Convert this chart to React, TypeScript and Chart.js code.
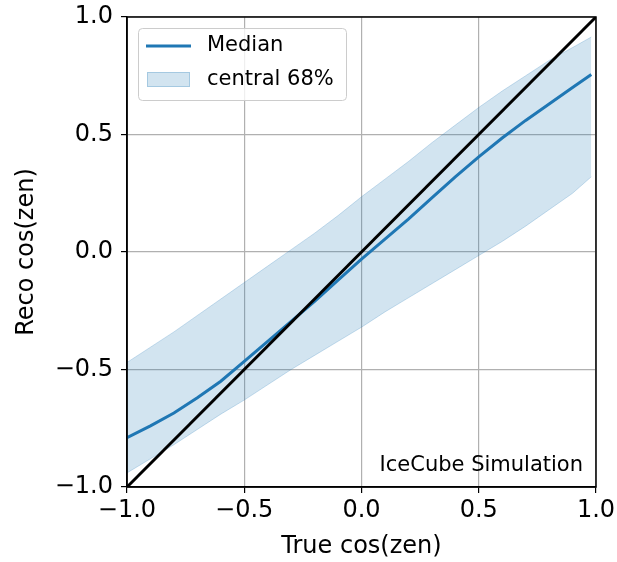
import React, { useEffect, useRef } from "react";
import { Chart, registerables } from "chart.js";

Chart.register(...registerables);

const trueCos = [-1.0, -0.9, -0.8, -0.7, -0.6, -0.5, -0.4, -0.3, -0.2, -0.1, 0.0, 0.1, 0.2, 0.3, 0.4, 0.5, 0.6, 0.7, 0.8, 0.9, 0.98];
const median = [-0.79, -0.74, -0.685, -0.62, -0.55, -0.465, -0.38, -0.295, -0.21, -0.12, -0.03, 0.055, 0.14, 0.23, 0.32, 0.405, 0.485, 0.56, 0.63, 0.70, 0.755];
const upper = [-0.47, -0.405, -0.34, -0.27, -0.20, -0.13, -0.06, 0.01, 0.08, 0.155, 0.235, 0.31, 0.385, 0.465, 0.54, 0.615, 0.685, 0.75, 0.815, 0.87, 0.915];
const lower = [-0.94, -0.88, -0.82, -0.755, -0.69, -0.63, -0.565, -0.5, -0.44, -0.38, -0.32, -0.255, -0.195, -0.135, -0.075, -0.015, 0.045, 0.11, 0.18, 0.25, 0.32];
const diagonal = [-1.0, 1.0];
const tickValues = [-1.0, -0.5, 0.0, 0.5, 1.0];

const BLUE = "#1f77b4";
const BAND = "rgba(31,119,180,0.2)";
const FONT = "'DejaVu Sans', sans-serif";

const fmt = (v: number) => v.toFixed(1).replace("-", "\u2212");

const framePlugin = {
  id: "frame",
  afterDatasetsDraw(chart: any) {
    const { ctx, chartArea: a } = chart;
    ctx.save();
    ctx.strokeStyle = "#000";
    ctx.lineWidth = 1.5;
    ctx.strokeRect(a.left, a.top, a.right - a.left, a.bottom - a.top);
    ctx.restore();
  },
  afterDraw(chart: any) {
    const { ctx, chartArea: a } = chart;
    ctx.save();
    // legend box
    const bx = a.left + 11, by = a.top + 11, bw = 208, bh = 72;
    ctx.fillStyle = "rgba(255,255,255,0.8)";
    ctx.strokeStyle = "#cccccc";
    ctx.lineWidth = 1;
    ctx.beginPath();
    (ctx as any).roundRect(bx + 0.5, by + 0.5, bw, bh, 4);
    ctx.fill();
    ctx.stroke();
    ctx.strokeStyle = BLUE;
    ctx.lineWidth = 3;
    ctx.beginPath();
    ctx.moveTo(bx + 8, by + 18);
    ctx.lineTo(bx + 53, by + 18);
    ctx.stroke();
    ctx.fillStyle = BAND;
    ctx.fillRect(bx + 9, by + 44, 43, 15);
    ctx.strokeStyle = "rgba(31,119,180,0.25)";
    ctx.lineWidth = 1;
    ctx.strokeRect(bx + 9.5, by + 44.5, 42, 14);
    ctx.fillStyle = "#000";
    ctx.font = `21px ${FONT}`;
    ctx.textBaseline = "middle";
    ctx.textAlign = "left";
    ctx.fillText("Median", bx + 69, by + 18);
    ctx.fillText("central 68%", bx + 69, by + 52);
    // annotation
    ctx.font = `21px ${FONT}`;
    ctx.textAlign = "right";
    ctx.textBaseline = "alphabetic";
    ctx.fillText("IceCube Simulation", a.right - 13, a.bottom - 16);
    ctx.restore();
  },
};

export default function App() {
  const ref = useRef<HTMLCanvasElement | null>(null);
  useEffect(() => {
    document.body.style.margin = "0";
    const ctx = ref.current!.getContext("2d")!;
    const chart = new Chart(ctx, {
      type: "scatter",
      data: {
        datasets: [
          {
            label: "diag",
            data: diagonal.map((v) => ({ x: v, y: v })),
            showLine: true,
            borderColor: "#000",
            borderWidth: 3,
            pointRadius: 0,
          },
          {
            label: "Median",
            data: trueCos.map((x, i) => ({ x, y: median[i] })),
            showLine: true,
            borderColor: BLUE,
            borderWidth: 3,
            pointRadius: 0,
          },
          {
            label: "central 68%",
            data: trueCos.map((x, i) => ({ x, y: upper[i] })),
            showLine: true,
            borderColor: "rgba(31,119,180,0.22)",
            borderWidth: 1,
            backgroundColor: BAND,
            fill: 3,
            pointRadius: 0,
          },
          {
            label: "lower",
            data: trueCos.map((x, i) => ({ x, y: lower[i] })),
            showLine: true,
            borderColor: "rgba(31,119,180,0.22)",
            borderWidth: 1,
            pointRadius: 0,
            fill: false,
          },
        ],
      },
      options: {
        animation: false,
        responsive: false,
        events: [],
        layout: { padding: { top: 17, right: 21, left: 0, bottom: 0 } },
        plugins: { legend: { display: false }, tooltip: { enabled: false } },
        scales: {
          x: {
            type: "linear",
            min: -1,
            max: 1,
            afterFit: (s: any) => { s.height = 75; s.paddingLeft = 0; s.paddingRight = 0; },
            afterBuildTicks: (s: any) => { s.ticks = tickValues.map((v) => ({ value: v })); },
            ticks: { callback: (v: any) => fmt(Number(v)), color: "#000", font: { family: FONT, size: 24 }, padding: 3, maxRotation: 0 },
            grid: { color: "#b0b0b0", lineWidth: 1.2, tickColor: "#000", tickLength: 6, tickWidth: 1.2 },
            border: { color: "#000", width: 1.5 },
            title: { display: true, text: "True cos(zen)", color: "#000", font: { family: FONT, size: 24 }, padding: { top: 0, bottom: 1 } },
          },
          y: {
            type: "linear",
            min: -1,
            max: 1,
            afterFit: (s: any) => { s.width = 127; s.paddingTop = 0; s.paddingBottom = 0; },
            afterBuildTicks: (s: any) => { s.ticks = tickValues.map((v) => ({ value: v })); },
            ticks: { callback: (v: any) => fmt(Number(v)), color: "#000", font: { family: FONT, size: 24 }, padding: 8 },
            grid: { color: "#b0b0b0", lineWidth: 1.2, tickColor: "#000", tickLength: 6, tickWidth: 1.2 },
            border: { color: "#000", width: 1.5 },
            title: { display: true, text: "Reco cos(zen)", color: "#000", font: { family: FONT, size: 24 }, padding: { top: 12, bottom: 0 } },
          },
        },
      },
      plugins: [framePlugin],
    } as any);
    return () => chart.destroy();
  }, []);
  return (
    <div style={{ width: 617, height: 562 }}>
      <canvas ref={ref} width={617} height={562} style={{ display: "block" }} />
    </div>
  );
}
